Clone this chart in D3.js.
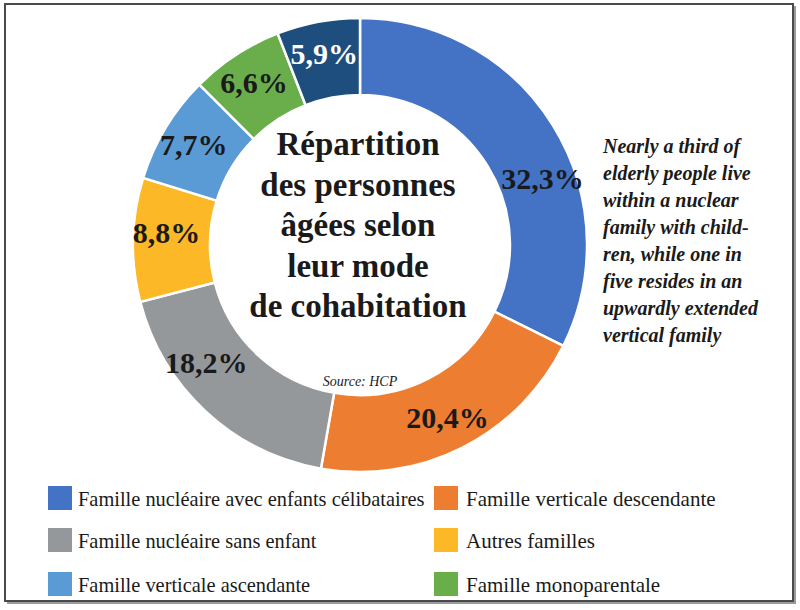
<!DOCTYPE html>
<html><head><meta charset="utf-8">
<script src="https://cdn.jsdelivr.net/npm/d3@7"></script>
<style>body{margin:0;background:#fff}svg{display:block}</style>
</head><body>
<script>
const categories = [
  "Famille nucléaire avec enfants célibataires",
  "Famille verticale descendante",
  "Famille nucléaire sans enfant",
  "Autres familles",
  "Famille verticale ascendante",
  "Famille monoparentale",
  "Autre"
];
const values = [32.3, 20.4, 18.2, 8.8, 7.7, 6.6, 5.9];
const valueLabels = ["32,3%", "20,4%", "18,2%", "8,8%", "7,7%", "6,6%", "5,9%"];
const colors = ["#4472C4", "#ED7D31", "#95989B", "#FDB827", "#5B9BD5", "#6AAE4B", "#1E4E7E"];
const labelColors = ["#1a1a1a","#1a1a1a","#1a1a1a","#1a1a1a","#1a1a1a","#1a1a1a","#ffffff"];
const legendCount = 6;
const titleLines = ["Répartition", "des personnes", "âgées selon", "leur mode", "de cohabitation"];
const noteLines = ["Nearly a third of", "elderly people live", "within a nuclear", "family with child-",
  "ren, while one in", "five resides in an", "upwardly extended", "vertical family"];
const sourceText = "Source: HCP";

// layout (angular nudges for labels, in radians)
const labelNudge = [0.21, 0, 0.17, 0.04, 0, 0, 0];

const W = 800, H = 610;
const svg = d3.select("body").append("svg").attr("width", W).attr("height", H);
const serif = "'Liberation Serif','Times New Roman',serif";

// frame with shadow
svg.append("rect").attr("x", 8).attr("y", 7).attr("width", 787).attr("height", 596)
  .attr("fill", "none").attr("stroke", "#9a9a9a").attr("stroke-width", 2);
svg.append("rect").attr("x", 5).attr("y", 4).attr("width", 788).attr("height", 597)
  .attr("fill", "#fff").attr("stroke", "#4a4a4a").attr("stroke-width", 2);

const cx = 360, cy = 245, rOut = 227, rIn = 150, rLab = 194;
const pie = d3.pie().sort(null).value(d => d)(values);
const arc = d3.arc().innerRadius(rIn).outerRadius(rOut);
const g = svg.append("g").attr("transform", `translate(${cx},${cy})`);
g.selectAll("path.slice").data(pie).join("path")
  .attr("class", "slice")
  .attr("d", arc)
  .attr("fill", (d, i) => colors[i])
  .attr("stroke", "#fff").attr("stroke-width", 2.5);

g.selectAll("text.val").data(pie).join("text")
  .attr("class", "val")
  .attr("x", (d, i) => rLab * Math.sin((d.startAngle + d.endAngle) / 2 + labelNudge[i]))
  .attr("y", (d, i) => -rLab * Math.cos((d.startAngle + d.endAngle) / 2 + labelNudge[i]) + 10)
  .attr("text-anchor", "middle")
  .attr("font-family", serif).attr("font-weight", "bold").attr("font-size", 30)
  .attr("fill", (d, i) => labelColors[i])
  .text((d, i) => valueLabels[i]);

// center title
svg.append("g").selectAll("text").data(titleLines).join("text")
  .attr("x", 358).attr("y", (d, i) => 155 + i * 40.5)
  .attr("text-anchor", "middle")
  .attr("font-family", serif).attr("font-weight", "bold").attr("font-size", 33)
  .attr("fill", "#1a1a1a").text(d => d);

svg.append("text").attr("x", 360).attr("y", 386).attr("text-anchor", "middle")
  .attr("font-family", serif).attr("font-style", "italic").attr("font-size", 14)
  .attr("fill", "#1a1a1a").text(sourceText);

// note
svg.append("g").selectAll("text").data(noteLines).join("text")
  .attr("x", 603).attr("y", (d, i) => 153 + i * 27)
  .attr("font-family", serif).attr("font-weight", "bold").attr("font-style", "italic")
  .attr("font-size", 20).attr("fill", "#1a1a1a").text(d => d);

// legend
const legendItems = categories.slice(0, legendCount).map((c, i) => ({c, col: colors[i], i}));
const colX = [48, 434], rowY = [486, 528, 572];
const lg = svg.append("g").selectAll("g").data(legendItems).join("g")
  .attr("transform", d => `translate(${colX[d.i % 2]},${rowY[Math.floor(d.i / 2)]})`);
lg.append("rect").attr("width", 24).attr("height", 24).attr("fill", d => d.col);
lg.append("text").attr("x", d => d.i % 2 === 0 ? 30 : 32).attr("y", 20)
  .attr("font-family", serif).attr("font-size", d => d.i % 2 === 0 ? 20.4 : 21).attr("fill", "#1a1a1a")
  .text(d => d.c);
</script>
</body></html>
